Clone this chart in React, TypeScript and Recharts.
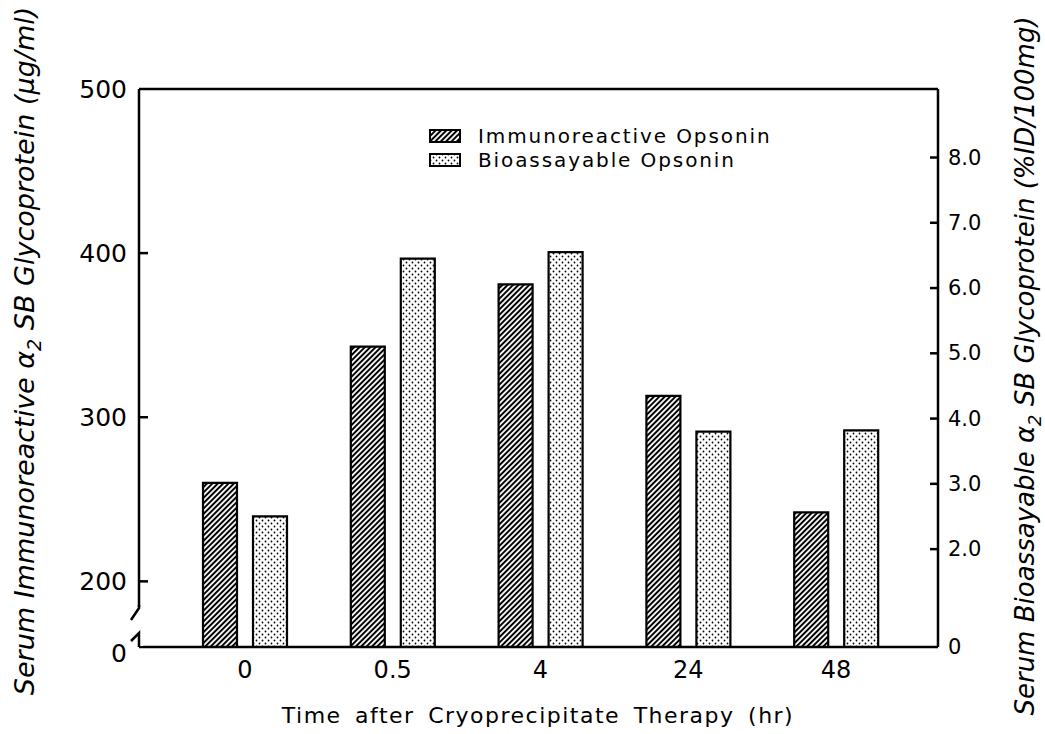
import { BarChart, Bar, XAxis, YAxis, ReferenceLine, Legend } from "recharts";

// hours after therapy
const times = ["0", "0.5", "4", "24", "48"];
// serum immunoreactive a2 SB glycoprotein, ug/ml (left axis)
const immunoreactive = [260, 343, 381, 313, 242];
// serum bioassayable a2 SB glycoprotein, %ID/100mg (right axis)
const bioassayable = [2.5, 6.45, 6.55, 3.8, 3.82];
const seriesNames = ["Immunoreactive Opsonin", "Bioassayable Opsonin"];

// left axis is broken: the lowest tick stands for 0
const leftTicks = [160, 200, 300, 400, 500];
const rightTicks = [0.5, 2, 3, 4, 5, 6, 7, 8];

const data = times.map((t, i) => ({
  time: t,
  immuno: immunoreactive[i],
  bio: bioassayable[i],
}));

const FONT = "'DejaVu Sans', sans-serif";
const fills = ["url(#hatch)", "url(#dots)"];

const LeftTick = ({ x, y, payload }: any) => {
  const ax = x + 12;
  const isBreak = payload.value === leftTicks[0];
  const isTop = payload.value === leftTicks[leftTicks.length - 1];
  return (
    <g>
      {!isBreak && !isTop && (
        <line x1={ax} x2={ax + 9} y1={y} y2={y} stroke="#000" strokeWidth={2.5} />
      )}
      {isBreak && (
        <g>
          <rect x={ax - 4} y={y - 40} width={8} height={39} fill="#fff" />
          <path
            d={`M${ax} ${y - 42} L${ax} ${y - 39} L${ax - 8} ${y - 27}`}
            fill="none"
            stroke="#000"
            strokeWidth={2.5}
          />
          <path
            d={`M${ax - 8} ${y - 6} L${ax} ${y - 14} L${ax} ${y}`}
            fill="none"
            stroke="#000"
            strokeWidth={2.5}
          />
        </g>
      )}
      <text
        x={x}
        y={y}
        dy={isBreak ? 6 : 0}
        textAnchor="end"
        dominantBaseline="central"
        fontSize={25}
        fill="#000"
      >
        {isBreak ? "0" : payload.value}
      </text>
    </g>
  );
};

const RightTick = ({ x, y, payload }: any) => {
  const ax = x - 10;
  const isZero = payload.value === rightTicks[0];
  return (
    <g>
      {!isZero && (
        <line x1={ax - 8} x2={ax} y1={y} y2={y} stroke="#000" strokeWidth={2.5} />
      )}
      <text
        x={x}
        y={y}
        textAnchor="start"
        dominantBaseline="central"
        fontSize={21}
        fill="#000"
      >
        {isZero ? "0" : payload.value.toFixed(1)}
      </text>
    </g>
  );
};

const TimeTick = ({ x, y, payload }: any) => (
  <text
    x={x}
    y={y}
    textAnchor="middle"
    dominantBaseline="central"
    fontSize={24}
    fill="#000"
  >
    {payload.value}
  </text>
);

const LeftTitle = () => (
  <text
    transform="translate(34,351) rotate(-90)"
    textAnchor="middle"
    fontStyle="italic"
    fontSize={27}
    fill="#000"
  >
    Serum Immunoreactive α
    <tspan dy={7} fontSize={19}>2</tspan>
    <tspan dy={-7}>{"  SB Glycoprotein (µg/ml)"}</tspan>
  </text>
);

const RightTitle = () => (
  <text
    transform="translate(1034,366) rotate(-90)"
    textAnchor="middle"
    fontStyle="italic"
    fontSize={26}
    fill="#000"
  >
    Serum Bioassayable α
    <tspan dy={7} fontSize={18}>2</tspan>
    <tspan dy={-7}>{"  SB Glycoprotein (%ID/100mg)"}</tspan>
  </text>
);

const TimeTitle = () => (
  <text
    x={538}
    y={723}
    textAnchor="middle"
    fontSize={22}
    letterSpacing={1.5}
    wordSpacing={5}
    fill="#000"
  >
    Time after Cryoprecipitate Therapy (hr)
  </text>
);

const LegendBox = ({ payload }: any) => {
  const names: string[] =
    payload && payload.length
      ? payload
          .map((p: any) => String(p.value))
          .sort((a: string, b: string) => seriesNames.indexOf(a) - seriesNames.indexOf(b))
      : seriesNames;
  return (
    <div style={{ fontFamily: FONT }}>
      {names.map((name) => (
        <div key={name} style={{ display: "flex", alignItems: "center", height: 24 }}>
          <svg width={33} height={15}>
            <rect
              x={1}
              y={1}
              width={30}
              height={12}
              fill={fills[seriesNames.indexOf(name)]}
              stroke="#000"
              strokeWidth={2}
            />
          </svg>
          <span style={{ marginLeft: 16, fontSize: 20, letterSpacing: 1.9, color: "#000" }}>
            {name}
          </span>
        </div>
      ))}
    </div>
  );
};

export default function App() {
  return (
    <div
      style={{
        position: "absolute",
        left: 0,
        top: 0,
        width: 1045,
        height: 734,
        background: "#fff",
        fontFamily: FONT,
      }}
    >
      <svg width={0} height={0} style={{ position: "absolute" }}>
        <defs>
          <pattern
            id="hatch"
            patternUnits="userSpaceOnUse"
            width={3.8}
            height={3.8}
            patternTransform="rotate(45)"
          >
            <rect width={3.8} height={3.8} fill="#fff" />
            <line x1={1.9} y1={0} x2={1.9} y2={3.8} stroke="#000" strokeWidth={2} />
          </pattern>
          <pattern id="dots" patternUnits="userSpaceOnUse" width={6} height={6}>
            <rect width={6} height={6} fill="#fff" />
            <circle cx={1.5} cy={1.5} r={0.9} fill="#000" />
            <circle cx={4.5} cy={4.5} r={0.9} fill="#000" />
          </pattern>
        </defs>
      </svg>
      <BarChart
        width={1045}
        height={734}
        data={data}
        margin={{ top: 89, right: 0, bottom: 0, left: 0 }}
        barGap={16}
      >
        <XAxis
          dataKey="time"
          height={87}
          padding={{ left: 32, right: 28 }}
          axisLine={{ stroke: "#000", strokeWidth: 2.5 }}
          tickLine={false}
          tickSize={0}
          tickMargin={23}
          tick={<TimeTick />}
          interval={0}
          label={<TimeTitle />}
        />
        <YAxis
          yAxisId="left"
          orientation="left"
          width={139}
          domain={[160, 500]}
          ticks={leftTicks}
          allowDataOverflow
          interval={0}
          axisLine={{ stroke: "#000", strokeWidth: 2.5 }}
          tickLine={false}
          tickSize={0}
          tickMargin={12}
          tick={<LeftTick />}
          label={<LeftTitle />}
        />
        <YAxis
          yAxisId="right"
          orientation="right"
          width={107}
          domain={[0.5, 9.05]}
          ticks={rightTicks}
          allowDataOverflow
          interval={0}
          axisLine={{ stroke: "#000", strokeWidth: 2.5 }}
          tickLine={false}
          tickSize={0}
          tickMargin={10}
          tick={<RightTick />}
          label={<RightTitle />}
        />
        <ReferenceLine yAxisId="left" y={500} stroke="#000" strokeWidth={2.5} />
        <Legend
          layout="horizontal"
          verticalAlign="middle"
          align="center"
          content={<LegendBox />}
          wrapperStyle={{ position: "absolute", top: 124, left: 429, width: "auto", height: "auto" }}
        />
        <Bar
          yAxisId="left"
          dataKey="immuno"
          name={seriesNames[0]}
          fill={fills[0]}
          stroke="#000"
          strokeWidth={2.2}
          barSize={34}
          isAnimationActive={false}
        />
        <Bar
          yAxisId="right"
          dataKey="bio"
          name={seriesNames[1]}
          fill={fills[1]}
          stroke="#000"
          strokeWidth={2.2}
          barSize={34}
          isAnimationActive={false}
        />
      </BarChart>
    </div>
  );
}
